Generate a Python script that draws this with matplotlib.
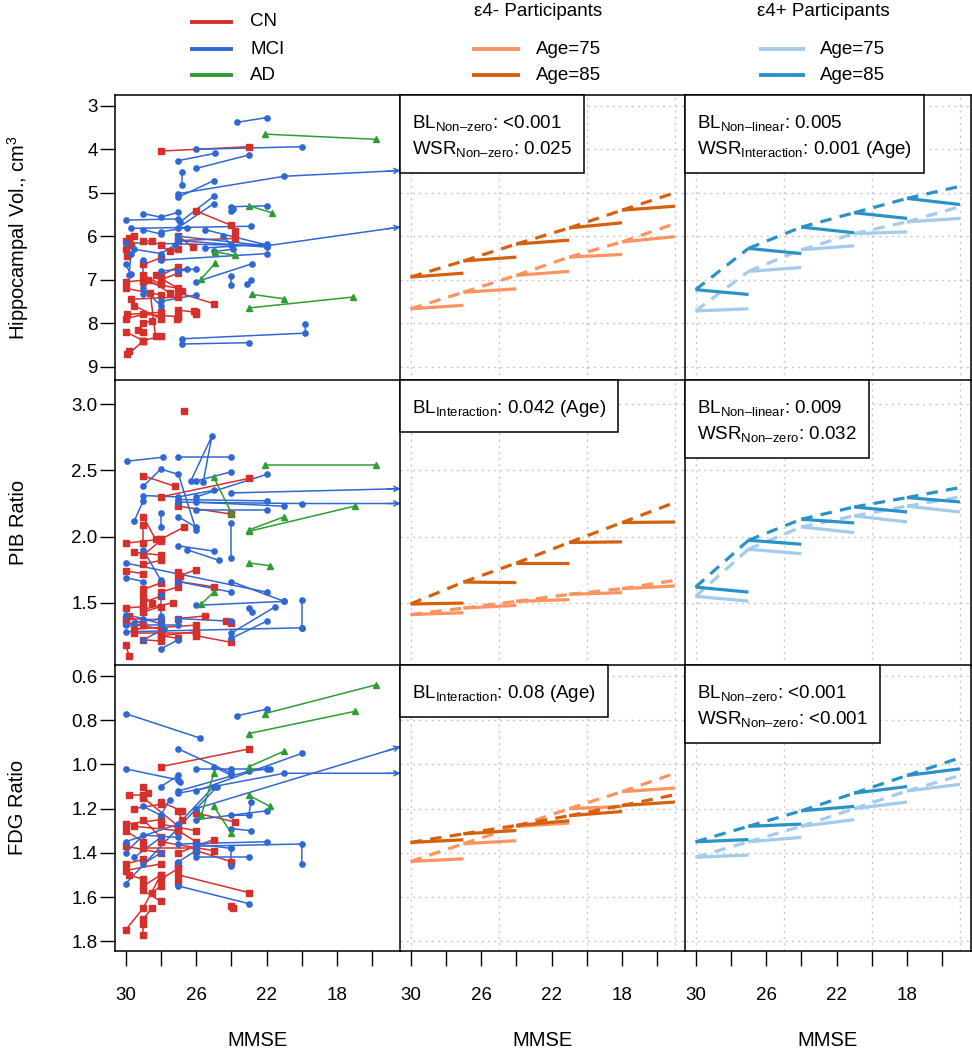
import numpy as np
import matplotlib.pyplot as plt
from matplotlib.lines import Line2D
from matplotlib.patches import Rectangle

plt.rcParams['font.family'] = ['Liberation Sans', 'DejaVu Sans']
plt.rcParams['mathtext.fontset'] = 'custom'
plt.rcParams['mathtext.rm'] = 'Liberation Sans'
plt.rcParams['mathtext.it'] = 'Liberation Sans:italic'

# ---------------- data: individual trajectories (MMSE, value) ----------------
hv_cn = [
    [(28, 4.04), (23, 3.94)], [(26, 5.42), (24, 5.75), (23.8, 5.88)], [(27, 6.1), (23.8, 6.05)],
    [(27, 6.0), (26.2, 6.25)], [(29.8, 6.05), (29.7, 6.2)], [(29.9, 6.45), (30, 6.3)],
    [(29, 6.1), (28.5, 6.12)], [(28, 6.2), (27.5, 6.35), (27, 6.3)], [(29, 6.65), (28, 6.5)],
    [(30, 7.05), (28.7, 7.0), (27.5, 7.3)], [(30, 7.2), (28, 7.35)], [(29.7, 7.45), (27, 7.4)],
    [(29.9, 7.8), (28, 7.75)], [(30, 7.9), (29, 7.8), (27, 7.85)], [(29, 8.0), (28.5, 7.95)],
    [(29, 8.2), (29.3, 8.15)], [(28, 8.3), (29, 8.4)], [(30, 8.2), (29, 8.4)],
    [(29.8, 8.65), (29.9, 8.72), (29, 8.42)], [(28, 7.0), (27, 6.85)], [(28.3, 6.9), (26.8, 7.25)],
    [(27, 7.7), (26, 7.75)], [(26, 7.78), (26.1, 7.72)], [(27, 7.85), (27.1, 7.9)],
    [(25, 7.55), (27, 7.3)], [(29, 7.05), (27, 7.2)], [(29.5, 7.6), (28, 7.9)],
    [(28.6, 7.3), (28.3, 8.3)], [(27, 6.7), (28, 6.9)], [(29, 6.9), (28, 7.1)], [(30, 6.1), (29.5, 6.0)],
]
hv_mci = [
    [(23.7, 3.38), (22, 3.27)], [(26, 4.0), (20, 3.94)], [(27, 4.26), (24.9, 4.09)], [(26, 4.44), (23, 4.13)],
    [(26.8, 4.53), (26.8, 4.81)], [(27, 5.02), (21, 4.62), (12, 4.44)], [(27, 5.1), (25, 4.72)],
    [(26.9, 5.67), (25, 5.08)], [(27, 5.8), (25, 5.25)], [(30, 5.63), (27, 5.6)],
    [(29, 5.48), (28, 5.56), (27, 5.45)], [(29.7, 5.82), (22.9, 5.77)], [(24, 5.32), (22, 5.3)],
    [(24, 5.42), (23.9, 5.38)], [(27, 6.0), (22, 6.22), (12, 5.65)], [(30, 6.15), (22, 6.22)],
    [(28, 6.55), (22, 6.4)], [(25.5, 6.27), (22, 6.18)], [(30, 6.65), (29.7, 6.87)],
    [(29, 6.54), (29, 7.32)], [(28, 6.8), (26.5, 6.75)], [(26, 7.05), (22.8, 6.63)],
    [(24, 6.92), (24, 7.13)], [(23.1, 7.1), (22.9, 7.0)], [(26.8, 8.36), (19.8, 8.23), (19.8, 8.02)],
    [(26.8, 8.48), (23, 8.45)], [(28, 7.5), (26, 7.35)], [(29.5, 6.3), (28, 6.4), (27.2, 6.2)],
    [(28, 5.9), (26.5, 5.8)], [(29, 5.85), (28, 5.95)], [(27, 6.8), (26, 6.75)],
    [(25, 6.35), (23.9, 6.3)], [(25.5, 5.85), (22, 6.2)], [(27, 6.1), (22, 6.25)],
    [(29, 7.2), (28, 7.6)], [(29.7, 6.4), (29.8, 6.9)], [(24, 6.2), (24.5, 6.0)],
]
hv_ad = [
    [(22.1, 3.65), (15.8, 3.77)], [(23, 5.3), (21.7, 5.46)], [(24.9, 6.36), (23.8, 6.44)],
    [(24.9, 6.61), (25.7, 6.98)], [(22.8, 7.34), (21, 7.44)], [(23, 7.65), (17.1, 7.4)],
]

pib_cn = [
    [(26.7, 2.95)], [(29, 2.46), (27.2, 2.38)], [(28, 2.3), (23, 2.44)], [(27, 2.23), (24, 2.17)],
    [(26.7, 2.07), (28, 1.98)], [(29, 2.15), (28.3, 1.98)], [(30, 1.95), (28, 1.98)],
    [(29, 2.09), (29, 1.95)], [(29.5, 1.88), (28, 1.86)], [(29, 1.86), (28, 1.97)],
    [(28, 1.82), (29, 1.79)], [(30, 1.74), (29, 1.72)], [(27, 1.7), (26, 1.75)],
    [(27, 1.73), (26.9, 1.7)], [(25, 1.62), (27, 1.66)], [(29, 1.6), (28, 1.65)],
    [(29, 1.5), (28, 1.55)], [(29, 1.47), (30, 1.46)], [(29, 1.43), (28, 1.47)],
    [(30, 1.38), (28, 1.37)], [(30, 1.35), (28, 1.3)], [(29.5, 1.3), (26, 1.33)],
    [(29.5, 1.27), (26, 1.27)], [(28, 1.25), (26, 1.28)], [(29, 1.22), (28, 1.21)],
    [(27, 1.23), (28, 1.25)], [(26, 1.25), (24, 1.2)], [(24.3, 1.36), (24, 1.35)],
    [(30, 1.18), (29.8, 1.1)], [(27.3, 1.5), (29, 1.45)], [(27, 1.38), (25.5, 1.4)],
    [(29, 1.55), (28.5, 1.5)], [(29.8, 1.4), (29, 1.33)], [(27, 1.62), (28, 1.58)],
]
pib_mci = [
    [(29.9, 2.57), (27.9, 2.6)], [(27, 2.6), (24, 2.6)], [(26.3, 2.42), (25.1, 2.76), (25.6, 2.41)],
    [(29, 2.38), (28, 2.51), (27, 2.47), (26, 2.05)], [(26, 2.42), (24, 2.49)], [(26, 2.3), (22, 2.47)],
    [(29, 2.31), (27, 2.3), (25, 2.35)], [(29.5, 2.12), (29, 2.27)], [(28, 2.18), (28, 2.07)],
    [(27, 2.28), (22, 2.27)], [(27, 2.26), (20, 2.25), (12, 2.25)], [(24, 2.33), (12, 2.37)],
    [(26, 2.26), (21, 2.23)], [(26, 2.2), (22, 2.2)], [(27, 2.15), (26, 2.07)],
    [(24, 2.1), (24, 1.84)], [(27, 1.93), (25, 1.89)], [(26.5, 1.9), (24.7, 1.82)],
    [(30, 1.8), (22, 1.58)], [(30, 1.69), (29, 1.66)], [(29, 1.9), (28, 1.67)],
    [(28, 1.56), (28, 1.4)], [(27, 1.66), (24, 1.58)], [(24, 1.66), (21, 1.51)],
    [(26, 1.48), (21, 1.51)], [(20, 1.52), (20, 1.31)], [(30, 1.28), (20, 1.31)],
    [(24, 1.27), (21.5, 1.47)], [(24, 1.23), (22, 1.36)], [(22.8, 1.43), (23, 1.46)],
    [(30, 1.41), (29, 1.38), (28, 1.34)], [(30, 1.33), (27, 1.33)], [(28, 1.15), (27, 1.22)],
    [(29, 1.22), (27.8, 1.3)], [(27, 1.38), (24, 1.36)], [(29.5, 1.35), (28, 1.38)],
]
pib_ad = [
    [(22.1, 2.54), (15.8, 2.54)], [(25, 2.45), (24, 2.18)], [(23, 2.05), (21, 2.15)],
    [(23, 2.04), (17, 2.23)], [(23, 1.8), (21.8, 1.78)], [(25, 1.58), (25.7, 1.49)],
]

fdg_cn = [
    [(28, 1.01), (23, 0.93)], [(26, 1.22), (23.8, 1.26)], [(29, 1.1), (28.7, 1.13)],
    [(29.8, 1.14), (29, 1.14)], [(29.5, 1.2), (28, 1.18)], [(29, 1.15), (27, 1.28)],
    [(28, 1.17), (26.8, 1.21)], [(27, 1.21), (26.8, 1.25)], [(30, 1.27), (28, 1.25)],
    [(29.5, 1.28), (27, 1.3)], [(30, 1.3), (29, 1.35)], [(29, 1.25), (28, 1.33)],
    [(28, 1.27), (26, 1.3)], [(27, 1.3), (26, 1.35)], [(30, 1.37), (28, 1.4)],
    [(29, 1.38), (26, 1.38)], [(28, 1.35), (25, 1.39)], [(26, 1.39), (24, 1.44)],
    [(30, 1.45), (29, 1.43)], [(30, 1.48), (28, 1.45)], [(29.8, 1.5), (29, 1.52)],
    [(29, 1.55), (28, 1.5)], [(28, 1.52), (27, 1.47)], [(27, 1.5), (23, 1.58)],
    [(24, 1.64), (23.9, 1.65)], [(30, 1.75), (29, 1.65), (28, 1.5)], [(29, 1.72), (29, 1.77)],
    [(29, 1.7), (28.5, 1.65)], [(28, 1.62), (29, 1.57)], [(28.5, 1.58), (28, 1.55)],
    [(27, 1.4), (25, 1.34)], [(27, 1.45), (27, 1.53)],
]
fdg_mci = [
    [(30, 0.77), (25.8, 0.88)], [(23.7, 0.78), (22, 0.75)], [(27, 0.93), (24, 1.04)],
    [(30, 1.02), (27, 1.07)], [(28, 1.1), (27, 1.05), (26.9, 1.08)], [(26, 1.02), (24, 1.02), (22, 1.02)],
    [(25, 1.01), (24, 1.05)], [(27, 1.12), (23, 1.03), (21.8, 1.02)], [(26, 1.12), (20, 0.95)],
    [(27, 1.13), (21, 1.04), (12, 1.04)], [(26, 1.2), (13, 0.886)], [(27.5, 1.16), (28, 1.23)],
    [(26, 1.25), (22, 1.21)], [(24, 1.23), (23, 1.23), (22.9, 1.17)], [(24, 1.29), (22.9, 1.3)],
    [(29, 1.19), (28, 1.23)], [(30, 1.35), (27, 1.27), (25, 1.1)], [(30, 1.4), (29, 1.32), (27, 1.33)],
    [(30, 1.54), (24.8, 1.1)], [(27, 1.36), (22, 1.35)], [(26, 1.36), (24, 1.38)],
    [(26, 1.37), (20, 1.36), (20, 1.45)], [(24, 1.38), (24, 1.46)], [(26, 1.42), (23, 1.42)],
    [(27, 1.55), (23, 1.63)], [(29, 1.45), (28, 1.4)], [(29.5, 1.42), (28, 1.33)], [(27, 1.44), (26, 1.39)],
]
fdg_ad = [
    [(22.1, 0.77), (15.8, 0.64)], [(23, 0.86), (17, 0.76)], [(23, 1.01), (21, 0.94)],
    [(25.7, 1.23), (25, 1.04)], [(25, 1.19), (24, 1.31)], [(23, 1.14), (21.8, 1.19)],
]

# ---------------- data: model predictions ----------------
mmse_knots = [30, 27, 24, 21, 18, 15]   # start of each predicted segment (+ end of last)

# dashed curve values at the knots, and end value of each solid segment
hv_neg85_curve = [6.94, 6.57, 6.18, 5.81, 5.40, 5.00]
hv_neg85_end = [6.85, 6.48, 6.09, 5.69, 5.31]
hv_neg75_curve = [7.67, 7.29, 6.90, 6.48, 6.13, 5.71]
hv_neg75_end = [7.59, 7.21, 6.81, 6.42, 6.01]
hv_pos85_curve = [7.23, 6.28, 5.79, 5.46, 5.13, 4.85]
hv_pos85_end = [7.34, 6.40, 5.92, 5.59, 5.27]
hv_pos75_curve = [7.72, 6.81, 6.31, 5.94, 5.67, 5.32]
hv_pos75_end = [7.67, 6.72, 6.22, 5.90, 5.59]

pib_neg85_curve = [1.49, 1.656, 1.80, 1.955, 2.106, 2.258]
pib_neg85_end = [1.497, 1.652, 1.80, 1.96, 2.11]
pib_neg75_curve = [1.41, 1.459, 1.51, 1.563, 1.606, 1.669]
pib_neg75_end = [1.424, 1.48, 1.523, 1.576, 1.626]
pib_pos85_curve = [1.618, 1.972, 2.131, 2.224, 2.295, 2.371]
pib_pos85_end = [1.58, 1.942, 2.103, 2.186, 2.262]
pib_pos75_curve = [1.548, 1.904, 2.073, 2.156, 2.23, 2.30]
pib_pos75_end = [1.512, 1.871, 2.03, 2.111, 2.186]

fdg_neg85_curve = [1.353, 1.314, 1.276, 1.232, 1.186, 1.137]
fdg_neg85_end = [1.341, 1.299, 1.255, 1.213, 1.170]
fdg_neg75_curve = [1.439, 1.359, 1.281, 1.20, 1.123, 1.04]
fdg_neg75_end = [1.427, 1.345, 1.265, 1.19, 1.107]
fdg_pos85_curve = [1.35, 1.28, 1.21, 1.13, 1.05, 0.97]
fdg_pos85_end = [1.34, 1.27, 1.19, 1.10, 1.02]
fdg_pos75_curve = [1.42, 1.35, 1.28, 1.20, 1.12, 1.05]
fdg_pos75_end = [1.41, 1.33, 1.25, 1.17, 1.09]

hv_stats_neg = [r'BL$_{\mathrm{Non–zero}}$: <0.001', r'WSR$_{\mathrm{Non–zero}}$: 0.025']
hv_stats_pos = [r'BL$_{\mathrm{Non–linear}}$: 0.005', r'WSR$_{\mathrm{Interaction}}$: 0.001 (Age)']
pib_stats_neg = [r'BL$_{\mathrm{Interaction}}$: 0.042 (Age)']
pib_stats_pos = [r'BL$_{\mathrm{Non–linear}}$: 0.009', r'WSR$_{\mathrm{Non–zero}}$: 0.032']
fdg_stats_neg = [r'BL$_{\mathrm{Interaction}}$: 0.08 (Age)']
fdg_stats_pos = [r'BL$_{\mathrm{Non–zero}}$: <0.001', r'WSR$_{\mathrm{Non–zero}}$: <0.001']

row_labels = ['Hippocampal Vol., cm$^3$', 'PIB Ratio', 'FDG Ratio']
row_ylims = [(9.32, 2.75), (1.025, 3.184), (1.842, 0.55)]
row_yticks = [[3, 4, 5, 6, 7, 8, 9], [1.5, 2.0, 2.5, 3.0], [0.6, 0.8, 1.0, 1.2, 1.4, 1.6, 1.8]]
row_yticklabels = [['3', '4', '5', '6', '7', '8', '9'], ['1.5', '2.0', '2.5', '3.0'],
                   ['0.6', '0.8', '1.0', '1.2', '1.4', '1.6', '1.8']]

# ---------------- style ----------------
CN_COL = '#D7302C'
MCI_COL = '#2F68D3'
AD_COL = '#2E9E32'
NEG75 = '#FC9360'
NEG85 = '#D5600E'
POS75 = '#A3CBEB'
POS85 = '#2B92C9'
XLIM = (30.6, 14.4)

W, H = 972, 1050
fig = plt.figure(figsize=(W / 100, H / 100), dpi=100)

col_x = [115, 400, 685]
col_w = 285.5
row_y = [95, 380, 665]
row_h = 285.5


def add_ax(r, c):
    return fig.add_axes([col_x[c] / W, 1 - (row_y[r] + row_h) / H, col_w / W, row_h / H])


def draw_traj(ax, traj, color, marker, ms):
    x = np.array([p[0] for p in traj], float)
    y = np.array([p[1] for p in traj], float)
    inside = x >= XLIM[1]
    ax.plot(x, y, color=color, lw=1.1, zorder=2)
    ax.plot(x[inside], y[inside], ls='none', marker=marker, ms=ms, color=color,
            mec=color, zorder=3)
    if not inside.all():
        k = np.argmax(~inside)
        x0, y0, x1, y1 = x[k - 1], y[k - 1], x[k], y[k]
        t = (XLIM[1] - x0) / (x1 - x0)
        ye = y0 + t * (y1 - y0)
        tb = (XLIM[1] + 0.8 - x0) / (x1 - x0)
        yb = y0 + tb * (y1 - y0)
        ax.annotate('', xy=(XLIM[1], ye), xytext=(XLIM[1] + 0.8, yb),
                    arrowprops=dict(arrowstyle='->', color=color, lw=1.1,
                                    shrinkA=0, shrinkB=0, mutation_scale=9),
                    annotation_clip=False, zorder=4)


def draw_model(ax, curve, ends, color):
    for i in range(len(ends)):
        ax.plot([mmse_knots[i], mmse_knots[i + 1]], [curve[i], curve[i + 1]],
                color=color, lw=2.3, ls=(0, (3.6, 2.6)), solid_capstyle='butt',
                dash_capstyle='butt', zorder=3)
        ax.plot([mmse_knots[i], mmse_knots[i + 1]], [curve[i], ends[i]],
                color=color, lw=2.3, solid_capstyle='butt', zorder=3)


def stat_box(ax, lines):
    texts = []
    for i, s in enumerate(lines):
        t = ax.annotate(s, xy=(0, 1), xycoords='axes fraction',
                        xytext=(12, -(33 + 25.6 * i)), textcoords='offset pixels',
                        ha='left', va='baseline', fontsize=13.5, zorder=6)
        texts.append(t)
    fig.canvas.draw()
    r = fig.canvas.get_renderer()
    wmax = max(t.get_window_extent(r).width for t in texts)
    bw = (wmax + 24) / (col_w)
    bh = (33 + 25.6 * (len(lines) - 1) + 19) / row_h
    ax.add_patch(Rectangle((0, 1 - bh), bw, bh, transform=ax.transAxes, fc='white',
                           ec='black', lw=1.1, zorder=5, clip_on=False))


spagh = [(hv_cn, hv_mci, hv_ad), (pib_cn, pib_mci, pib_ad), (fdg_cn, fdg_mci, fdg_ad)]
models = [
    ((hv_neg75_curve, hv_neg75_end, hv_neg85_curve, hv_neg85_end),
     (hv_pos75_curve, hv_pos75_end, hv_pos85_curve, hv_pos85_end)),
    ((pib_neg75_curve, pib_neg75_end, pib_neg85_curve, pib_neg85_end),
     (pib_pos75_curve, pib_pos75_end, pib_pos85_curve, pib_pos85_end)),
    ((fdg_neg75_curve, fdg_neg75_end, fdg_neg85_curve, fdg_neg85_end),
     (fdg_pos75_curve, fdg_pos75_end, fdg_pos85_curve, fdg_pos85_end)),
]
stats = [(hv_stats_neg, hv_stats_pos), (pib_stats_neg, pib_stats_pos), (fdg_stats_neg, fdg_stats_pos)]

for r in range(3):
    for c in range(3):
        ax = add_ax(r, c)
        ax.set_xlim(*XLIM)
        ax.set_ylim(*row_ylims[r])
        for sp in ax.spines.values():
            sp.set_linewidth(1.1)
        ax.set_yticks(row_yticks[r])
        if c == 0:
            ax.set_yticklabels(row_yticklabels[r], fontsize=13.5)
            ax.tick_params(axis='y', length=10.5, width=1.0, pad=2)
            cn, mci, ad = spagh[r]
            for tr in cn:
                draw_traj(ax, tr, CN_COL, 's', 4.2)
            for tr in mci:
                draw_traj(ax, tr, MCI_COL, 'o', 3.8)
            for tr in ad:
                draw_traj(ax, tr, AD_COL, '^', 4.6)
        else:
            ax.tick_params(axis='y', length=0, labelleft=False)
            ax.set_xticks([30, 25, 20, 15], minor=False)
            for yv in row_yticks[r]:
                ax.axhline(yv, color='#C8C8C8', lw=1.0, ls=(0, (1.5, 3)), zorder=1)
            for xv in [30, 25, 20, 15]:
                ax.axvline(xv, color='#C8C8C8', lw=1.0, ls=(0, (1.5, 3)), zorder=1)
            a75, e75, a85, e85 = models[r][c - 1]
            col75, col85 = (NEG75, NEG85) if c == 1 else (POS75, POS85)
            draw_model(ax, a75, e75, col75)
            draw_model(ax, a85, e85, col85)
        if r == 2:
            ax.set_xticks([30, 28, 26, 24, 22, 20, 18, 16])
            ax.set_xticklabels(['30', '', '26', '', '22', '', '18', ''], fontsize=13.5)
            ax.tick_params(axis='x', length=10.5, width=1.0, pad=16)
        else:
            ax.set_xticks([])
        if c > 0:
            stat_box(ax, stats[r][c - 1])

# axis labels
for r in range(3):
    fig.text(18 / W, 1 - (row_y[r] + row_h / 2) / H, row_labels[r], rotation=90,
             ha='center', va='center', fontsize=14.5)
for c in range(3):
    fig.text((col_x[c] + col_w / 2) / W, 1 - 1040 / H, 'MMSE', ha='center', va='center',
             fontsize=14.5)

# legends
def leg_line(x0, x1, y, color):
    fig.add_artist(Line2D([x0 / W, x1 / W], [1 - y / H, 1 - y / H], color=color, lw=2.8,
                          transform=fig.transFigure))


def leg_text(x, y, s, ha='left'):
    fig.text(x / W, 1 - y / H, s, ha=ha, va='center', fontsize=13.5)


for y, s, col in [(22, 'CN', CN_COL), (49, 'MCI', MCI_COL), (75, 'AD', AD_COL)]:
    leg_line(192, 231, y, col)
    leg_text(250, y, s)

leg_text(538, 11, 'ε4- Participants', ha='center')
leg_line(474, 518, 49, NEG75)
leg_text(536, 49, 'Age=75')
leg_line(474, 518, 75, NEG85)
leg_text(536, 75, 'Age=85')

leg_text(823, 11, 'ε4+ Participants', ha='center')
leg_line(761, 803, 49, POS75)
leg_text(820, 49, 'Age=75')
leg_line(761, 803, 75, POS85)
leg_text(820, 75, 'Age=85')

fig.savefig('out.png', dpi=100)
